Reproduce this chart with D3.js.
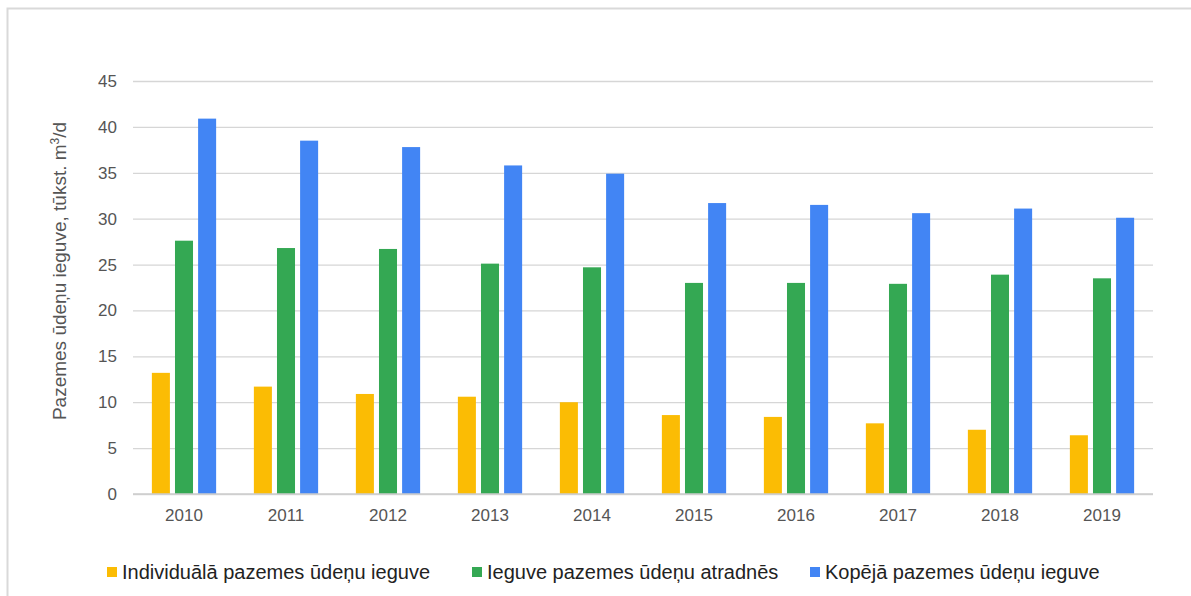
<!DOCTYPE html>
<html>
<head>
<meta charset="utf-8">
<script src="https://cdn.jsdelivr.net/npm/d3@7"></script>
<style>
  body { margin: 0; background: #fff; }
  svg { display: block; font-family: "Liberation Sans", Arial, sans-serif; }
</style>
</head>
<body>
<div id="chart"></div>
<script>
// data
var years = ["2010", "2011", "2012", "2013", "2014", "2015", "2016", "2017", "2018", "2019"];
var individuala = [13.2, 11.7, 10.9, 10.6, 10.0, 8.6, 8.4, 7.7, 7.0, 6.4];
var atradnes = [27.6, 26.8, 26.7, 25.1, 24.7, 23.0, 23.0, 22.9, 23.9, 23.5];
var kopeja = [40.9, 38.5, 37.8, 35.8, 34.9, 31.7, 31.5, 30.6, 31.1, 30.1];
var seriesNames = ["Individuālā pazemes ūdeņu ieguve", "Ieguve pazemes ūdeņu atradnēs", "Kopējā pazemes ūdeņu ieguve"];
var seriesColors = ["#fbbc04", "#34a853", "#4285f4"];
var yTicks = [0, 5, 10, 15, 20, 25, 30, 35, 40, 45];

var width = 1191, height = 596;
var margin = {left: 133, right: 38, top: 81, bottom: 102};

var svg = d3.select("#chart").append("svg")
  .attr("width", width)
  .attr("height", height);

// frame (only top and left edges show in the crop)
svg.append("path")
  .attr("d", "M7.5," + height + "V8.5H" + width)
  .attr("fill", "none")
  .attr("stroke", "#d9d9d9")
  .attr("stroke-width", 2);

var series = [individuala, atradnes, kopeja];

var x = d3.scaleBand()
  .domain(years)
  .range([margin.left, width - margin.right])
  .paddingInner(0.37)
  .paddingOuter(0.185);

var xInner = d3.scaleBand()
  .domain(d3.range(series.length))
  .range([0, x.bandwidth()])
  .paddingInner(0.22);

var y = d3.scaleLinear()
  .domain([0, 45])
  .range([height - margin.bottom, margin.top]);

// gridlines + y labels
var yAxis = d3.axisLeft(y)
  .tickValues(yTicks)
  .tickSize(-(width - margin.left - margin.right))
  .tickPadding(16);

var gy = svg.append("g")
  .attr("transform", "translate(" + margin.left + ",0)")
  .call(yAxis);
gy.select(".domain").remove();
gy.selectAll(".tick line").attr("stroke", "#d6d6d6").attr("stroke-width", 1.3);
gy.selectAll(".tick text").attr("fill", "#555").style("font-size", "17px");

// bars
var groups = svg.selectAll(".year")
  .data(years)
  .enter().append("g")
  .attr("class", "year")
  .attr("transform", function(d) { return "translate(" + x(d) + ",0)"; });

groups.selectAll("rect")
  .data(function(d, i) {
    return series.map(function(s, k) { return {k: k, v: s[i]}; });
  })
  .enter().append("rect")
  .attr("x", function(d) { return xInner(d.k); })
  .attr("width", xInner.bandwidth())
  .attr("y", function(d) { return y(d.v); })
  .attr("height", function(d) { return y(0) - y(d.v); })
  .attr("fill", function(d) { return seriesColors[d.k]; });

// baseline
svg.append("line")
  .attr("x1", margin.left).attr("x2", width - margin.right)
  .attr("y1", y(0)).attr("y2", y(0))
  .attr("stroke", "#ccc").attr("stroke-width", 1.5);

// x labels
var xAxis = d3.axisBottom(x).tickSize(0).tickPadding(15);
var gx = svg.append("g")
  .attr("transform", "translate(0," + y(0) + ")")
  .call(xAxis);
gx.select(".domain").remove();
gx.selectAll(".tick text").attr("fill", "#555").style("font-size", "17px");

// y title, with superscript for m3/d
var title = svg.append("text")
  .attr("transform", "translate(66,271) rotate(-90)")
  .attr("text-anchor", "middle")
  .attr("fill", "#555")
  .style("font-size", "19px");
title.append("tspan").text("Pazemes ūdeņu ieguve, tūkst. m");
title.append("tspan").attr("dy", -7).style("font-size", "12px").text("3");
title.append("tspan").attr("dy", 7).text("/d");

// legend
var legendX = [107, 472, 810];
var legend = svg.selectAll(".legend")
  .data(seriesNames)
  .enter().append("g")
  .attr("class", "legend")
  .attr("transform", function(d, i) { return "translate(" + legendX[i] + ",572)"; });

legend.append("rect")
  .attr("x", 0).attr("y", -5)
  .attr("width", 10).attr("height", 10)
  .attr("fill", function(d, i) { return seriesColors[i]; });

legend.append("text")
  .attr("x", 15)
  .attr("dy", "0.35em")
  .attr("fill", "#222")
  .style("font-size", "20px")
  .text(function(d) { return d; });
</script>
</body>
</html>
